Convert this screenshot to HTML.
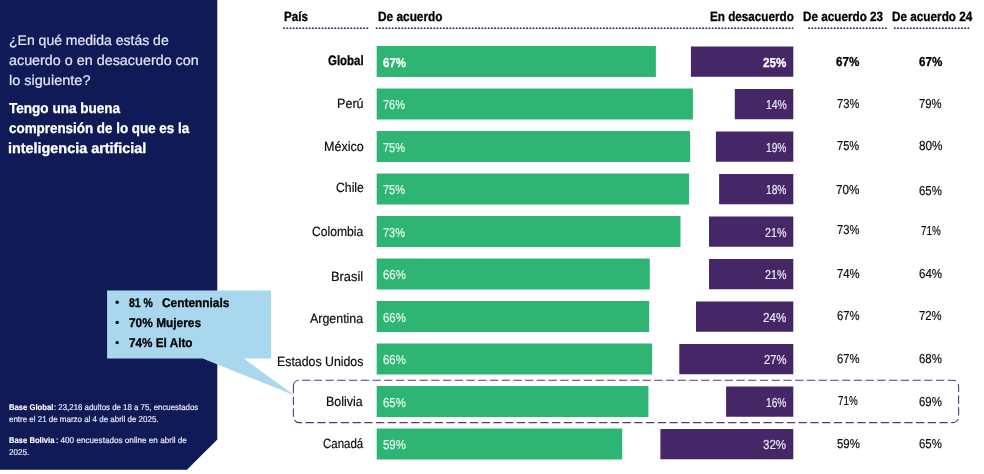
<!DOCTYPE html>
<html lang="es">
<head>
<meta charset="utf-8">
<title>Comprensión de la inteligencia artificial</title>
<style>
html,body{margin:0;padding:0;background:#fff;}
body{width:984px;height:474px;position:relative;overflow:hidden;font-family:"Liberation Sans", sans-serif;}
.t{position:absolute;white-space:nowrap;line-height:1;text-rendering:geometricPrecision;transform-origin:0 0;font-weight:400;display:block;}
.panel{position:absolute;left:0;top:0;width:218px;height:470px;background:#101a57;
  clip-path:polygon(0 0,217.3px 0,217.3px 439.5px,187px 469.7px,0 469.7px);}
p,ul,li,h1,h2{margin:0;padding:0;list-style:none;font-weight:inherit;font-size:inherit;}
.bar{position:absolute;}
.callout{position:absolute;left:0;top:0;width:984px;height:474px;pointer-events:none;}
svg{position:absolute;left:0;top:0;overflow:visible;}
</style>
</head>
<body>
<aside class="panel"><p class="question"><span class="t" style="left:8.90px;top:33px;font-size:14px;-webkit-text-stroke:0.2px;color:#e4e6f4;transform:scaleX(1.0009);">¿En qué medida estás de</span><span class="t" style="left:8.90px;top:53px;font-size:14px;-webkit-text-stroke:0.2px;color:#e4e6f4;transform:scaleX(1.0241);">acuerdo o en desacuerdo con</span><span class="t" style="left:9.30px;top:73px;font-size:14px;-webkit-text-stroke:0.2px;color:#e4e6f4;transform:scaleX(1.0364);">lo siguiente?</span></p><p class="statement"><span class="t" style="left:9.00px;top:102px;font-size:14.5px;font-weight:700;-webkit-text-stroke:0.3px;color:#ffffff;transform:scaleX(0.9342);">Tengo una buena</span><span class="t" style="left:9.00px;top:122px;font-size:14.5px;font-weight:700;-webkit-text-stroke:0.3px;color:#ffffff;transform:scaleX(0.9238);">comprensión de lo que es la</span><span class="t" style="left:8.01px;top:142px;font-size:14.5px;font-weight:700;-webkit-text-stroke:0.3px;color:#ffffff;transform:scaleX(0.9922);">inteligencia artificial</span></p><p class="note"><span class="t" style="left:8.90px;top:403px;font-size:8.4px;font-weight:700;-webkit-text-stroke:0.12px;color:#ffffff;transform:scaleX(0.9152);">Base Global</span><span class="t" style="left:53.90px;top:403px;font-size:8.4px;-webkit-text-stroke:0.2px;color:#e4e6f4;transform:scaleX(0.9389);">: 23,216 adultos de 18 a 75, encuestados</span><span class="t" style="left:8.90px;top:415px;font-size:8.4px;-webkit-text-stroke:0.2px;color:#e4e6f4;transform:scaleX(0.9501);">entre el 21 de marzo al 4 de abril de 2025.</span></p><p class="note"><span class="t" style="left:8.90px;top:436px;font-size:8.4px;font-weight:700;-webkit-text-stroke:0.12px;color:#ffffff;transform:scaleX(0.9132);">Base Bolivia</span><span class="t" style="left:55.80px;top:436px;font-size:8.4px;-webkit-text-stroke:0.2px;color:#e4e6f4;transform:scaleX(0.9725);">: 400 encuestados online en abril de</span><span class="t" style="left:9.00px;top:448px;font-size:8.4px;-webkit-text-stroke:0.2px;color:#e4e6f4;transform:scaleX(0.9694);">2025.</span></p></aside>
<section class="chart"><div class="head"><span class="t" style="left:283.70px;top:10px;font-size:13.4px;font-weight:700;-webkit-text-stroke:0.3px;color:#000;transform:scaleX(0.8709);">País</span><span class="t" style="left:378.40px;top:10px;font-size:13.4px;font-weight:700;-webkit-text-stroke:0.3px;color:#000;transform:scaleX(0.8852);">De acuerdo</span><span class="t" style="left:710.10px;top:10px;font-size:13.4px;font-weight:700;-webkit-text-stroke:0.3px;color:#000;transform:scaleX(0.8735);">En desacuerdo</span><span class="t" style="left:803.00px;top:10px;font-size:13.4px;font-weight:700;-webkit-text-stroke:0.3px;color:#000;transform:scaleX(0.8749);">De acuerdo 23</span><span class="t" style="left:891.90px;top:10px;font-size:13.4px;font-weight:700;-webkit-text-stroke:0.3px;color:#000;transform:scaleX(0.8773);">De acuerdo 24</span></div>
<div class="row"><span class="t" style="left:328.25px;top:54px;font-size:13.6px;font-weight:700;-webkit-text-stroke:0.3px;color:#000;transform:scaleX(0.8430);">Global</span><div class="bar" style="left:376px;top:45px;width:280px;height:33px;background:#2eb573;clip-path:inset(0.90px 0.10px 0.90px 0.70px)"></div><span class="t" style="left:382.75px;top:56px;font-size:13px;font-weight:700;-webkit-text-stroke:0.3px;color:#ffffff;transform:scaleX(0.8881);">67%</span><div class="bar" style="left:690px;top:46px;width:104px;height:31px;background:#452666;clip-path:inset(0.50px 0.70px 0.30px 0.90px)"></div><span class="t" style="left:763.00px;top:56px;font-size:13px;font-weight:700;-webkit-text-stroke:0.3px;color:#ffffff;transform:scaleX(0.8976);">25%</span><span class="t" style="left:836.25px;top:55px;font-size:13px;font-weight:700;-webkit-text-stroke:0.3px;color:#000;transform:scaleX(0.8976);">67%</span><span class="t" style="left:918.75px;top:55px;font-size:13px;font-weight:700;-webkit-text-stroke:0.3px;color:#000;transform:scaleX(0.8976);">67%</span></div>
<div class="row"><span class="t" style="left:337.05px;top:97px;font-size:13.3px;-webkit-text-stroke:0.2px;color:#0c0c10;transform:scaleX(0.9460);">Perú</span><div class="bar" style="left:376px;top:88px;width:317px;height:32px;background:#2eb573;clip-path:inset(0.40px 0.10px 0.40px 0.70px)"></div><span class="t" style="left:383.00px;top:98px;font-size:13px;-webkit-text-stroke:0.2px;color:#eaf7f0;transform:scaleX(0.8466);">76%</span><div class="bar" style="left:734px;top:89px;width:60px;height:31px;background:#452666;clip-path:inset(0.00px 0.70px 0.80px 0.80px)"></div><span class="t" style="left:765.50px;top:98px;font-size:13px;-webkit-text-stroke:0.2px;color:#ece7f2;transform:scaleX(0.8031);">14%</span><span class="t" style="left:836.50px;top:97px;font-size:13px;-webkit-text-stroke:0.2px;color:#0c0c10;transform:scaleX(0.8598);">73%</span><span class="t" style="left:919.00px;top:97px;font-size:13px;-webkit-text-stroke:0.2px;color:#0c0c10;transform:scaleX(0.8692);">79%</span></div>
<div class="row"><span class="t" style="left:323.80px;top:140px;font-size:13.3px;-webkit-text-stroke:0.2px;color:#0c0c10;transform:scaleX(0.9454);">México</span><div class="bar" style="left:376px;top:130px;width:315px;height:33px;background:#2eb573;clip-path:inset(0.90px 0.90px 0.90px 0.70px)"></div><span class="t" style="left:383.00px;top:141px;font-size:13px;-webkit-text-stroke:0.2px;color:#eaf7f0;transform:scaleX(0.8466);">75%</span><div class="bar" style="left:715px;top:131px;width:79px;height:31px;background:#452666;clip-path:inset(0.50px 0.70px 0.30px 0.90px)"></div><span class="t" style="left:766.00px;top:141px;font-size:13px;-webkit-text-stroke:0.2px;color:#ece7f2;transform:scaleX(0.7842);">19%</span><span class="t" style="left:836.75px;top:139px;font-size:13px;-webkit-text-stroke:0.2px;color:#0c0c10;transform:scaleX(0.8503);">75%</span><span class="t" style="left:918.50px;top:139px;font-size:13px;-webkit-text-stroke:0.2px;color:#0c0c10;transform:scaleX(0.9070);">80%</span></div>
<div class="row"><span class="t" style="left:335.75px;top:181px;font-size:13.3px;-webkit-text-stroke:0.2px;color:#0c0c10;transform:scaleX(0.9195);">Chile</span><div class="bar" style="left:376px;top:173px;width:314px;height:32px;background:#2eb573;clip-path:inset(0.40px 0.90px 0.40px 0.70px)"></div><span class="t" style="left:383.00px;top:183px;font-size:13px;-webkit-text-stroke:0.2px;color:#eaf7f0;transform:scaleX(0.8466);">75%</span><div class="bar" style="left:719px;top:174px;width:75px;height:31px;background:#452666;clip-path:inset(0.00px 0.70px 0.80px 0.10px)"></div><span class="t" style="left:766.00px;top:183px;font-size:13px;-webkit-text-stroke:0.2px;color:#ece7f2;transform:scaleX(0.7842);">18%</span><span class="t" style="left:836.00px;top:183px;font-size:13px;-webkit-text-stroke:0.2px;color:#0c0c10;transform:scaleX(0.8976);">70%</span><span class="t" style="left:919.00px;top:184px;font-size:13px;-webkit-text-stroke:0.2px;color:#0c0c10;transform:scaleX(0.8787);">65%</span></div>
<div class="row"><span class="t" style="left:311.50px;top:225px;font-size:13.3px;-webkit-text-stroke:0.2px;color:#0c0c10;transform:scaleX(0.9115);">Colombia</span><div class="bar" style="left:376px;top:215px;width:305px;height:33px;background:#2eb573;clip-path:inset(0.90px 0.50px 0.90px 0.70px)"></div><span class="t" style="left:383.00px;top:226px;font-size:13px;-webkit-text-stroke:0.2px;color:#eaf7f0;transform:scaleX(0.8466);">73%</span><div class="bar" style="left:709px;top:216px;width:85px;height:31px;background:#452666;clip-path:inset(0.50px 0.70px 0.30px 0.00px)"></div><span class="t" style="left:765.00px;top:226px;font-size:13px;-webkit-text-stroke:0.2px;color:#ece7f2;transform:scaleX(0.8220);">21%</span><span class="t" style="left:836.50px;top:223px;font-size:13px;-webkit-text-stroke:0.2px;color:#0c0c10;transform:scaleX(0.8598);">73%</span><span class="t" style="left:920.50px;top:224px;font-size:13px;-webkit-text-stroke:0.2px;color:#0c0c10;transform:scaleX(0.7559);">71%</span></div>
<div class="row"><span class="t" style="left:331.03px;top:270px;font-size:13.3px;-webkit-text-stroke:0.2px;color:#0c0c10;transform:scaleX(0.9677);">Brasil</span><div class="bar" style="left:376px;top:258px;width:274px;height:32px;background:#2eb573;clip-path:inset(0.40px 0.20px 0.40px 0.70px)"></div><span class="t" style="left:383.00px;top:268px;font-size:13px;-webkit-text-stroke:0.2px;color:#eaf7f0;transform:scaleX(0.8787);">66%</span><div class="bar" style="left:709px;top:259px;width:85px;height:31px;background:#452666;clip-path:inset(0.00px 0.70px 0.80px 0.00px)"></div><span class="t" style="left:765.00px;top:268px;font-size:13px;-webkit-text-stroke:0.2px;color:#ece7f2;transform:scaleX(0.8220);">21%</span><span class="t" style="left:836.50px;top:267px;font-size:13px;-webkit-text-stroke:0.2px;color:#0c0c10;transform:scaleX(0.8692);">74%</span><span class="t" style="left:919.00px;top:267px;font-size:13px;-webkit-text-stroke:0.2px;color:#0c0c10;transform:scaleX(0.8881);">64%</span></div>
<div class="row"><span class="t" style="left:309.50px;top:312px;font-size:13.3px;-webkit-text-stroke:0.2px;color:#0c0c10;transform:scaleX(0.9344);">Argentina</span><div class="bar" style="left:376px;top:300px;width:274px;height:33px;background:#2eb573;clip-path:inset(0.90px 0.80px 0.90px 0.70px)"></div><span class="t" style="left:383.00px;top:311px;font-size:13px;-webkit-text-stroke:0.2px;color:#eaf7f0;transform:scaleX(0.8787);">66%</span><div class="bar" style="left:696px;top:301px;width:98px;height:31px;background:#452666;clip-path:inset(0.50px 0.70px 0.30px 0.00px)"></div><span class="t" style="left:763.00px;top:311px;font-size:13px;-webkit-text-stroke:0.2px;color:#ece7f2;transform:scaleX(0.8976);">24%</span><span class="t" style="left:836.50px;top:309px;font-size:13px;-webkit-text-stroke:0.2px;color:#0c0c10;transform:scaleX(0.8692);">67%</span><span class="t" style="left:919.25px;top:309px;font-size:13px;-webkit-text-stroke:0.2px;color:#0c0c10;transform:scaleX(0.8692);">72%</span></div>
<div class="row"><span class="t" style="left:276.57px;top:355px;font-size:13.3px;-webkit-text-stroke:0.2px;color:#0c0c10;transform:scaleX(0.9272);">Estados Unidos</span><div class="bar" style="left:376px;top:343px;width:277px;height:32px;background:#2eb573;clip-path:inset(0.40px 0.90px 0.40px 0.70px)"></div><span class="t" style="left:383.00px;top:353px;font-size:13px;-webkit-text-stroke:0.2px;color:#eaf7f0;transform:scaleX(0.8787);">66%</span><div class="bar" style="left:679px;top:344px;width:115px;height:31px;background:#452666;clip-path:inset(0.00px 0.70px 0.80px 0.30px)"></div><span class="t" style="left:763.75px;top:353px;font-size:13px;-webkit-text-stroke:0.2px;color:#ece7f2;transform:scaleX(0.8692);">27%</span><span class="t" style="left:836.50px;top:352px;font-size:13px;-webkit-text-stroke:0.2px;color:#0c0c10;transform:scaleX(0.8692);">67%</span><span class="t" style="left:919.00px;top:352px;font-size:13px;-webkit-text-stroke:0.2px;color:#0c0c10;transform:scaleX(0.8787);">68%</span></div>
<div class="row"><span class="t" style="left:326.07px;top:395px;font-size:13.3px;-webkit-text-stroke:0.2px;color:#0c0c10;transform:scaleX(0.9349);">Bolivia</span><div class="bar" style="left:376px;top:385px;width:273px;height:33px;background:#2eb573;clip-path:inset(0.90px 0.60px 0.90px 0.70px)"></div><span class="t" style="left:383.00px;top:396px;font-size:13px;-webkit-text-stroke:0.2px;color:#eaf7f0;transform:scaleX(0.8787);">65%</span><div class="bar" style="left:726px;top:386px;width:68px;height:31px;background:#452666;clip-path:inset(0.50px 0.70px 0.30px 0.10px)"></div><span class="t" style="left:766.00px;top:396px;font-size:13px;-webkit-text-stroke:0.2px;color:#ece7f2;transform:scaleX(0.7842);">16%</span><span class="t" style="left:838.00px;top:394px;font-size:13px;-webkit-text-stroke:0.2px;color:#0c0c10;transform:scaleX(0.7559);">71%</span><span class="t" style="left:919.00px;top:395px;font-size:13px;-webkit-text-stroke:0.2px;color:#0c0c10;transform:scaleX(0.8787);">69%</span></div>
<div class="row"><span class="t" style="left:322.50px;top:437px;font-size:13.3px;-webkit-text-stroke:0.2px;color:#0c0c10;transform:scaleX(0.8637);">Canadá</span><div class="bar" style="left:376px;top:428px;width:247px;height:32px;background:#2eb573;clip-path:inset(0.40px 0.80px 0.40px 0.70px)"></div><span class="t" style="left:383.00px;top:438px;font-size:13px;-webkit-text-stroke:0.2px;color:#eaf7f0;transform:scaleX(0.8787);">59%</span><div class="bar" style="left:660px;top:429px;width:134px;height:31px;background:#452666;clip-path:inset(0.00px 0.70px 0.80px 0.40px)"></div><span class="t" style="left:763.25px;top:438px;font-size:13px;-webkit-text-stroke:0.2px;color:#ece7f2;transform:scaleX(0.8881);">32%</span><span class="t" style="left:836.50px;top:437px;font-size:13px;-webkit-text-stroke:0.2px;color:#0c0c10;transform:scaleX(0.8787);">59%</span><span class="t" style="left:919.00px;top:437px;font-size:13px;-webkit-text-stroke:0.2px;color:#0c0c10;transform:scaleX(0.8787);">65%</span></div>
</section>
<svg width="984" height="474" viewBox="0 0 984 474" aria-hidden="true">
<path d="M293.4 386.0A5.8 5.8 0 0 1 299.2 380.2H952.8A5.8 5.8 0 0 1 958.6 386.0V416.8A5.8 5.8 0 0 1 952.8 422.6H299.2A5.8 5.8 0 0 1 293.4 416.8V386.0" fill="none" stroke="#573780" stroke-width="1.1" stroke-dasharray="8.3 3.439"/>
<path d="M107.1 290.5H271V358.4H243.7L294.3 395.3L202.6 358.4H107.1Z" fill="#a8d7ee"/>
<circle cx="117.2" cy="302.3" r="1.7" fill="#000"/><circle cx="117.2" cy="322.4" r="1.7" fill="#000"/><circle cx="117.2" cy="342.6" r="1.7" fill="#000"/>
<line x1="283.2" y1="28.2" x2="368.2" y2="28.2" stroke="#0f2f4c" stroke-width="1.6" stroke-dasharray="1.8 1.4"/>
<line x1="375.8" y1="28.2" x2="793.3" y2="28.2" stroke="#0f2f4c" stroke-width="1.6" stroke-dasharray="1.8 1.4"/>
<line x1="808.2" y1="28.2" x2="886.7" y2="28.2" stroke="#0f2f4c" stroke-width="1.6" stroke-dasharray="1.8 1.4"/>
<line x1="893.9" y1="28.2" x2="969.2" y2="28.2" stroke="#0f2f4c" stroke-width="1.6" stroke-dasharray="1.8 1.4"/>
</svg>
<ul class="callout"><li><span class="t" style="left:129.30px;top:297px;font-size:12.6px;font-weight:700;-webkit-text-stroke:0.3px;color:#000;transform:scaleX(0.8314);">81 %</span><span class="t" style="left:161.60px;top:297px;font-size:12.6px;font-weight:700;-webkit-text-stroke:0.3px;color:#000;transform:scaleX(0.9429);">Centennials</span></li><li><span class="t" style="left:128.90px;top:317px;font-size:12.6px;font-weight:700;-webkit-text-stroke:0.3px;color:#000;transform:scaleX(0.9450);">70% Mujeres</span></li><li><span class="t" style="left:128.90px;top:337px;font-size:12.6px;font-weight:700;-webkit-text-stroke:0.3px;color:#000;transform:scaleX(0.9319);">74% El Alto</span></li></ul>
</body>
</html>
